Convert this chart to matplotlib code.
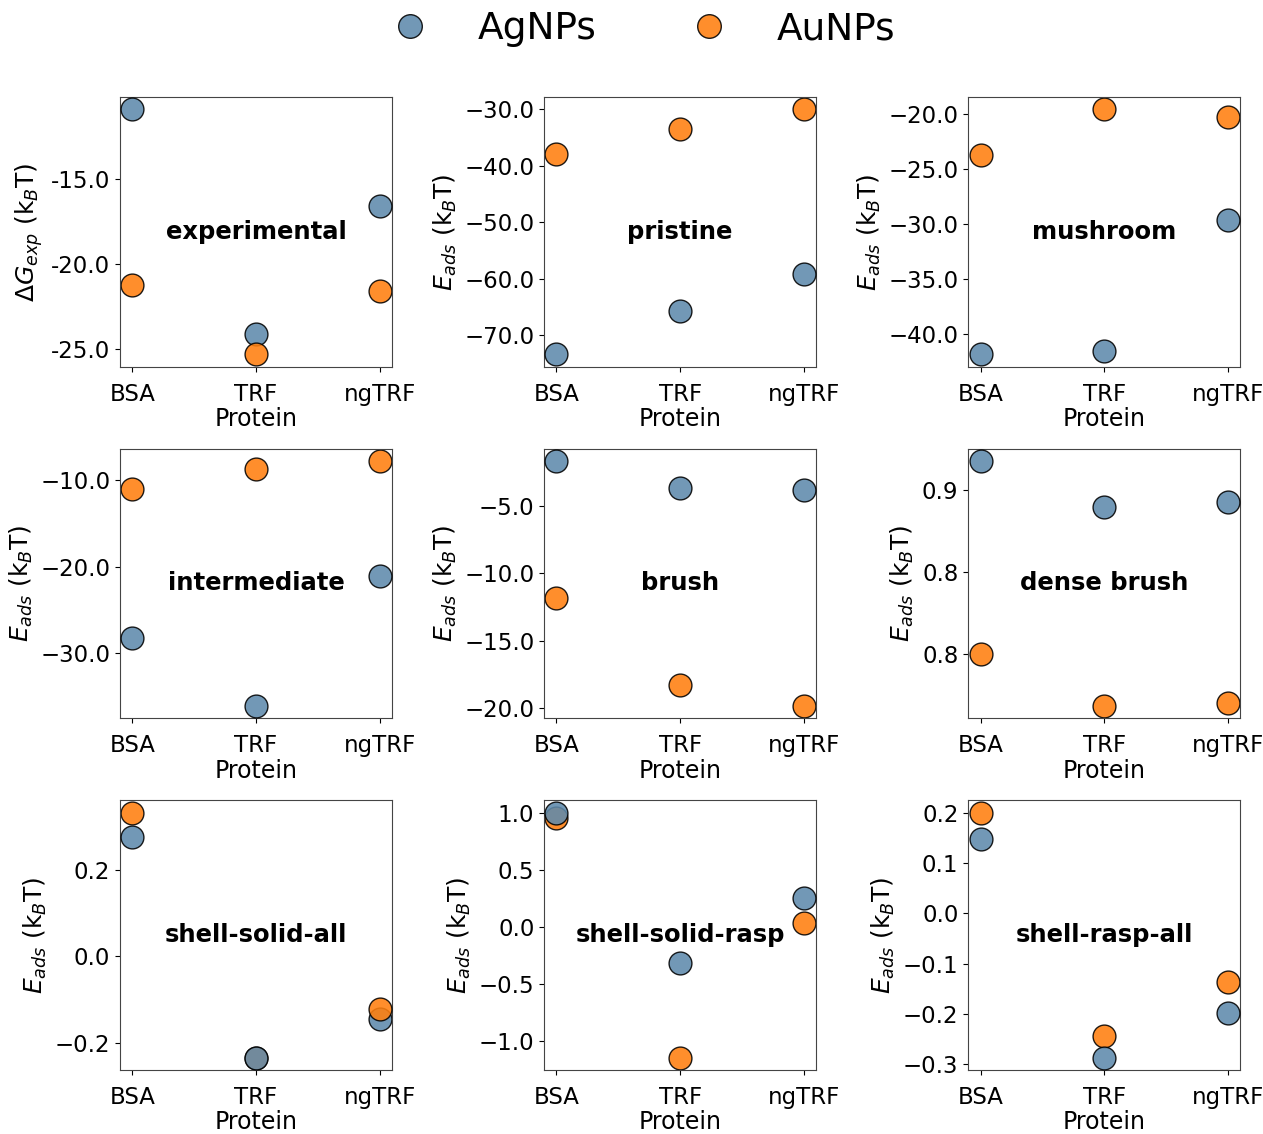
import matplotlib
matplotlib.use("Agg")
import matplotlib.pyplot as plt
from matplotlib.ticker import FuncFormatter, FixedLocator
from matplotlib.lines import Line2D

proteins = ["BSA", "TRF", "ngTRF"]
panels = ["experimental", "pristine", "mushroom",
          "intermediate", "brush", "dense brush",
          "shell-solid-all", "shell-solid-rasp", "shell-rasp-all"]

ag_experimental = [-10.9, -24.1, -16.6]
au_experimental = [-21.2, -25.3, -21.6]
ag_pristine = [-73.4, -65.8, -59.2]
au_pristine = [-38.0, -33.5, -30.0]
ag_mushroom = [-41.9, -41.6, -29.7]
au_mushroom = [-23.8, -19.6, -20.3]
ag_intermediate = [-28.2, -36.1, -21.1]
au_intermediate = [-11.1, -8.7, -7.8]
ag_brush = [-1.66, -3.66, -3.81]
au_brush = [-11.8, -18.3, -19.85]
ag_dense_brush = [0.918, 0.890, 0.893]
au_dense_brush = [0.800, 0.768, 0.770]
ag_shell_solid_all = [0.275, -0.235, -0.145]
au_shell_solid_all = [0.332, -0.235, -0.123]
ag_shell_solid_rasp = [1.00, -0.315, 0.255]
au_shell_solid_rasp = [0.95, -1.15, 0.035]
ag_shell_rasp_all = [0.147, -0.287, -0.198]
au_shell_rasp_all = [0.200, -0.244, -0.137]

ag_values = [ag_experimental, ag_pristine, ag_mushroom, ag_intermediate, ag_brush,
             ag_dense_brush, ag_shell_solid_all, ag_shell_solid_rasp, ag_shell_rasp_all]
au_values = [au_experimental, au_pristine, au_mushroom, au_intermediate, au_brush,
             au_dense_brush, au_shell_solid_all, au_shell_solid_rasp, au_shell_rasp_all]

# which series is drawn on top at each protein
top_series = [["Ag", "Au", "Ag"], ["Ag", "Ag", "Ag"], ["Ag", "Ag", "Ag"],
              ["Ag", "Ag", "Ag"], ["Ag", "Ag", "Ag"], ["Ag", "Ag", "Ag"],
              ["Ag", "Ag", "Au"], ["Ag", "Ag", "Ag"], ["Ag", "Ag", "Ag"]]

y_ticks = [[-15, -20, -25], [-30, -40, -50, -60, -70], [-20, -25, -30, -35, -40],
           [-10, -20, -30], [-5, -10, -15, -20], [0.90, 0.85, 0.80],
           [0.2, 0.0, -0.2], [1.0, 0.5, 0.0, -0.5, -1.0], [0.2, 0.1, 0.0, -0.1, -0.2, -0.3]]

ag_color = "#5e8aac"
au_color = "#ff7f0e"
alpha = 0.88

fig, axes = plt.subplots(3, 3, figsize=(12.63, 11.34), dpi=100)
fig.subplots_adjust(left=0.095, right=0.982, top=0.9145, bottom=0.0564,
                    wspace=0.559, hspace=0.304)

for i, ax in enumerate(axes.flat):
    ag = ag_values[i]
    au = au_values[i]
    for j, p in enumerate(proteins):
        order = [("Au", au[j], au_color), ("Ag", ag[j], ag_color)]
        if top_series[i][j] == "Au":
            order = order[::-1]
        for k, (name, v, c) in enumerate(order):
            ax.scatter([p], [v], s=270, color=c, alpha=alpha, edgecolor="black",
                       linewidth=1.0, zorder=2 + k)
    ax.yaxis.set_major_locator(FixedLocator(y_ticks[i]))
    if i == 0:
        ax.yaxis.set_major_formatter(FuncFormatter(lambda x, pos: f"{x:.1f}"))
        ax.set_ylabel(r"$\Delta G_{exp}$ (k$_B$T)", fontsize=18, labelpad=4)
    else:
        ax.yaxis.set_major_formatter(
            FuncFormatter(lambda x, pos: f"{x:.1f}".replace("-", "\u2212")))
        ax.set_ylabel(r"$E_{ads}$ (k$_B$T)", fontsize=18, labelpad=4)
    ax.set_xlabel("Protein", fontsize=17, labelpad=1)
    ax.tick_params(labelsize=16.5)
    ax.tick_params(axis="x", pad=8)
    ax.text(0.5, 0.5, panels[i], transform=ax.transAxes, ha="center", va="center",
            fontsize=17.5, fontweight="bold")
    for s in ax.spines.values():
        s.set_color("#444444")

handles = [Line2D([], [], marker="o", linestyle="", markersize=17, markerfacecolor=ag_color,
                  alpha=alpha, markeredgecolor="black"),
           Line2D([], [], marker="o", linestyle="", markersize=17, markerfacecolor=au_color,
                  alpha=alpha, markeredgecolor="black")]
fig.legend(handles, ["AgNPs", "AuNPs"], loc="upper center", ncol=2, frameon=False,
           fontsize=27, bbox_to_anchor=(0.502, 1.02), columnspacing=2.0, handletextpad=0.8)

fig.savefig("out.png", dpi=100)
